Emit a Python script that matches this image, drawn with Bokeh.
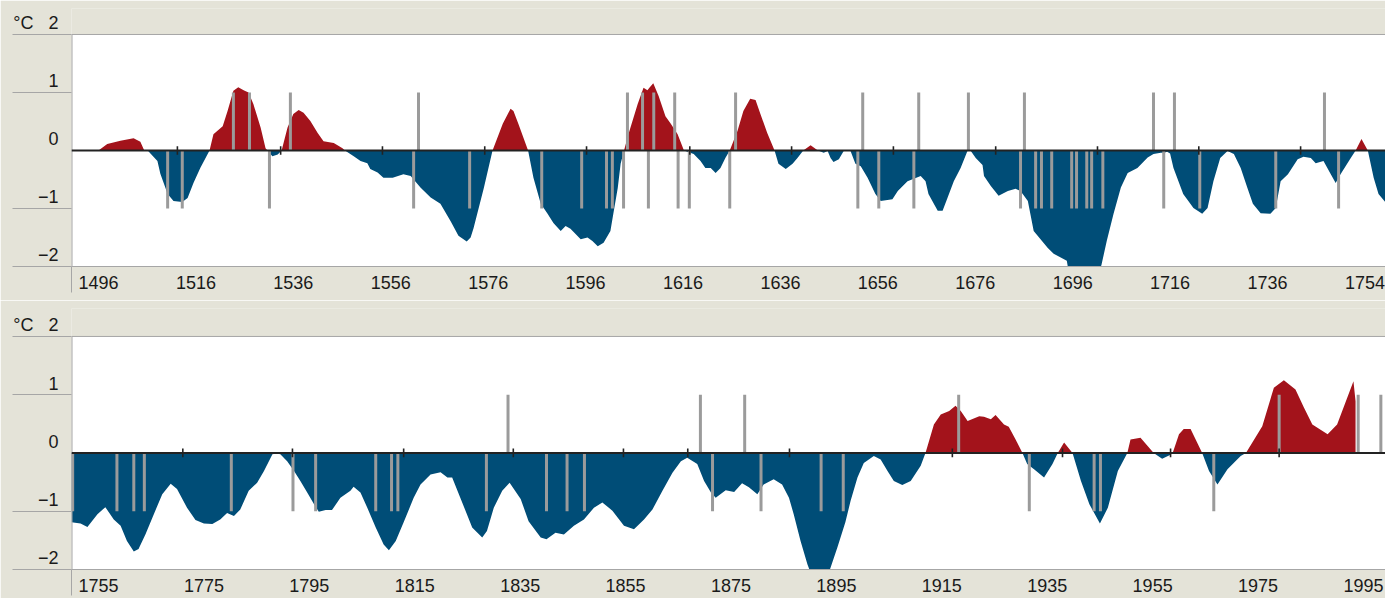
from bokeh.plotting import figure
from bokeh.layouts import column
from bokeh.models import FixedTicker, Range1d, Span, BoxAnnotation
from bokeh.embed import file_html
from bokeh.resources import INLINE

# ---------------- data: top panel (1496-1754) ----------------
top_years = [1496.0, 1497.8, 1500.5, 1503.2, 1504.6, 1505.4, 1506.1, 1508.1, 1508.7, 1510.2,
             1511.4, 1513.2, 1514.3, 1515.5, 1516.9, 1518.8, 1519.6, 1521.5, 1522.5, 1523.7,
             1524.7, 1525.8, 1526.8, 1527.8, 1529.3, 1530.3, 1530.7, 1531.7, 1532.8, 1533.6,
             1534.8, 1536.0, 1537.1, 1538.1, 1539.5, 1541.0, 1542.2, 1544.3, 1546.1, 1546.6,
             1548.4, 1549.8, 1551.2, 1551.8, 1553.3, 1554.5, 1556.4, 1558.6, 1560.1, 1562.1,
             1564.2, 1566.2, 1568.3, 1569.9, 1571.6, 1572.4, 1573.0, 1575.1, 1576.9, 1579.0,
             1580.6, 1581.2, 1582.2, 1584.2, 1585.3, 1586.8, 1588.2, 1589.4, 1590.9, 1591.9,
             1592.9, 1595.0, 1596.4, 1597.4, 1598.5, 1599.7, 1601.1, 1601.7, 1602.6, 1603.2,
             1603.9, 1604.8, 1606.7, 1607.9, 1608.7, 1609.1, 1609.9, 1611.0, 1612.4, 1613.5,
             1614.9, 1616.2, 1618.2, 1619.6, 1620.6, 1621.7, 1622.7, 1623.7, 1624.7, 1625.6,
             1627.2, 1628.4, 1629.8, 1630.9, 1631.9, 1633.3, 1634.8, 1635.6, 1637.1, 1638.5,
             1639.5, 1640.7, 1642.2, 1643.7, 1644.9, 1645.7, 1646.3, 1646.9, 1648.0, 1649.0,
             1650.4, 1651.4, 1652.5, 1653.9, 1655.5, 1656.6, 1659.0, 1660.1, 1662.1, 1664.8,
             1665.8, 1666.4, 1667.5, 1668.3, 1669.3, 1670.3, 1671.6, 1673.0, 1674.4, 1675.1,
             1676.1, 1677.5, 1677.8, 1679.2, 1680.8, 1682.7, 1684.3, 1685.3, 1686.8, 1688.0,
             1690.9, 1692.1, 1694.8, 1695.2, 1698.5, 1701.5, 1701.9, 1703.0, 1704.4, 1705.9,
             1707.3, 1709.3, 1711.4, 1712.6, 1714.1, 1714.8, 1715.4, 1716.0, 1716.7, 1718.7,
             1720.8, 1722.6, 1723.7, 1724.9, 1726.3, 1727.8, 1729.1, 1730.5, 1731.9, 1733.0,
             1734.6, 1736.6, 1737.7, 1738.7, 1740.2, 1742.2, 1743.4, 1744.9, 1745.9, 1747.5,
             1749.0, 1750.0, 1751.0, 1753.1, 1754.1, 1755.3, 1756.6, 1757.8, 1758.8, 1760.3]
top_temps = [0.0, 0.11, 0.17, 0.21, 0.15, 0.0, 0.0, -0.18, -0.40, -0.75,
             -0.87, -0.89, -0.82, -0.56, -0.30, 0.0, 0.28, 0.42, 0.68, 1.03,
             1.09, 1.04, 1.00, 0.80, 0.39, 0.04, 0.0, -0.10, -0.07, 0.0,
             0.39, 0.63, 0.70, 0.65, 0.51, 0.30, 0.16, 0.13, 0.04, 0.0,
             -0.10, -0.18, -0.22, -0.32, -0.38, -0.47, -0.47, -0.41, -0.44, -0.64,
             -0.81, -0.92, -1.22, -1.47, -1.57, -1.50, -1.34, -0.65, 0.0, 0.46,
             0.72, 0.68, 0.46, 0.0, -0.47, -0.92, -1.09, -1.25, -1.39, -1.30,
             -1.35, -1.53, -1.50, -1.56, -1.65, -1.59, -1.39, -1.09, -0.65, -0.23,
             0.0, 0.28, 0.80, 1.08, 1.04, 1.08, 1.16, 0.94, 0.59, 0.46,
             0.28, 0.0, -0.06, -0.18, -0.30, -0.30, -0.39, -0.30, -0.13, 0.0,
             0.34, 0.68, 0.89, 0.87, 0.63, 0.30, 0.0, -0.23, -0.32, -0.23,
             -0.13, 0.0, 0.09, 0.0, -0.04, -0.01, -0.13, -0.20, -0.15, -0.01,
             -0.01, -0.23, -0.27, -0.47, -0.75, -0.87, -0.84, -0.70, -0.53, -0.44,
             -0.53, -0.75, -0.92, -1.04, -1.04, -0.82, -0.53, -0.30, -0.01, -0.01,
             -0.13, -0.25, -0.44, -0.61, -0.78, -0.70, -0.66, -0.70, -0.87, -1.39,
             -1.68, -1.78, -1.90, -2.10, -2.30, -2.05, -1.98, -1.56, -1.09, -0.64,
             -0.39, -0.30, -0.12, -0.06, -0.04, -0.04, -0.02, -0.05, -0.30, -0.75,
             -0.99, -1.09, -0.99, -0.53, -0.13, -0.01, -0.06, -0.30, -0.65, -0.92,
             -1.08, -1.09, -0.99, -0.53, -0.41, -0.15, -0.11, -0.13, -0.22, -0.18,
             -0.41, -0.56, -0.41, -0.13, 0.0, 0.20, 0.0, -0.47, -0.75, -0.90]
top_warm_events = [1523.7, 1527.0, 1535.4, 1561.7, 1604.6, 1607.7, 1610.0, 1614.3, 1626.8,
                   1652.9, 1664.4, 1674.6, 1686.1, 1712.6, 1716.9, 1747.7]
top_cold_events = [1510.2, 1513.2, 1531.1, 1560.7, 1572.2, 1587.0, 1595.2, 1600.3, 1601.5,
                   1603.8, 1608.9, 1615.0, 1617.3, 1625.6, 1651.9, 1656.2, 1663.4, 1685.3,
                   1688.4, 1689.6, 1691.7, 1695.8, 1696.8, 1698.9, 1699.9, 1702.2, 1714.7,
                   1722.1, 1737.7, 1750.6]
top_zero_ticks = [1512.2, 1533.4, 1554.3, 1575.3, 1596.2, 1617.4, 1638.3, 1659.2, 1680.2,
                  1701.1, 1721.9, 1742.8]
top_tick_years = [1496, 1516, 1536, 1556, 1576, 1596, 1616, 1636, 1656, 1676, 1696, 1716, 1736, 1756]
top_tick_labels = ["1496", "1516", "1536", "1556", "1576", "1596", "1616", "1636", "1656",
                   "1676", "1696", "1716", "1736", "1754"]

# ---------------- data: bottom panel (1755-1995) ----------------
bot_years = [1749.9, 1751.6, 1752.9, 1754.8, 1756.3, 1757.9, 1759.2, 1760.4, 1761.7, 1762.6,
             1763.9, 1765.5, 1767.1, 1768.7, 1769.9, 1771.8, 1773.4, 1775.0, 1776.6, 1778.1,
             1779.4, 1780.7, 1781.9, 1783.5, 1785.1, 1786.4, 1788.0, 1788.8, 1789.5, 1790.8,
             1792.1, 1793.3, 1794.6, 1795.9, 1796.8, 1798.1, 1799.3, 1800.9, 1802.8, 1803.4,
             1804.7, 1806.0, 1807.6, 1809.1, 1810.1, 1811.4, 1812.9, 1814.8, 1816.1, 1818.0,
             1819.9, 1821.2, 1822.1, 1823.7, 1825.9, 1827.8, 1828.7, 1830.0, 1831.6, 1833.0,
             1835.1, 1836.6, 1838.9, 1840.0, 1841.7, 1843.3, 1845.2, 1847.1, 1849.0, 1850.6,
             1852.5, 1854.7, 1856.6, 1858.5, 1860.1, 1862.0, 1863.9, 1865.5, 1866.7, 1868.6,
             1869.9, 1871.2, 1872.1, 1874.0, 1875.6, 1877.1, 1878.4, 1880.0, 1881.2, 1883.1,
             1884.7, 1886.0, 1886.9, 1888.2, 1889.5, 1890.5, 1892.5, 1893.7, 1895.2, 1896.7,
             1897.7, 1899.0, 1900.2, 1902.1, 1903.4, 1904.7, 1905.9, 1907.5, 1909.1, 1911.0,
             1911.9, 1912.2, 1913.5, 1914.8, 1916.4, 1917.6, 1918.6, 1919.9, 1922.1, 1923.0,
             1924.3, 1925.2, 1926.8, 1927.7, 1929.0, 1930.3, 1931.2, 1932.5, 1934.4, 1936.0,
             1937.0, 1938.2, 1939.8, 1941.4, 1943.0, 1945.0, 1946.5, 1948.4, 1950.2, 1950.8,
             1952.7, 1955.2, 1956.8, 1958.4, 1958.8, 1960.0, 1960.9, 1962.2, 1964.4, 1965.7,
             1967.3, 1969.2, 1971.7, 1972.7, 1975.8, 1978.0, 1979.9, 1982.1, 1983.7, 1985.3,
             1988.2, 1990.0, 1993.1, 1993.5]
bot_temps = [-1.19, -1.21, -1.27, -1.05, -0.93, -1.14, -1.25, -1.51, -1.69, -1.65,
             -1.40, -1.05, -0.71, -0.53, -0.62, -0.94, -1.15, -1.21, -1.22, -1.14,
             -1.03, -1.08, -0.97, -0.65, -0.51, -0.31, -0.02, -0.01, -0.02, -0.14,
             -0.31, -0.48, -0.68, -0.88, -1.01, -0.98, -0.98, -0.77, -0.65, -0.58,
             -0.68, -0.94, -1.28, -1.57, -1.67, -1.51, -1.19, -0.77, -0.54, -0.37,
             -0.33, -0.42, -0.42, -0.78, -1.28, -1.45, -1.34, -0.94, -0.65, -0.51,
             -0.79, -1.17, -1.45, -1.48, -1.37, -1.40, -1.25, -1.14, -0.94, -0.85,
             -0.99, -1.25, -1.31, -1.14, -0.97, -0.65, -0.34, -0.14, -0.08, -0.19,
             -0.48, -0.68, -0.77, -0.64, -0.67, -0.52, -0.59, -0.71, -0.54, -0.45,
             -0.54, -0.77, -1.05, -1.51, -1.91, -2.15, -2.20, -2.02, -1.62, -1.19,
             -0.82, -0.42, -0.17, -0.05, -0.11, -0.31, -0.48, -0.55, -0.48, -0.22,
             0.0, 0.09, 0.49, 0.66, 0.72, 0.81, 0.72, 0.55, 0.63, 0.62,
             0.58, 0.65, 0.49, 0.45, 0.23, 0.0, -0.19, -0.28, -0.42, -0.19,
             0.0, 0.18, 0.0, -0.48, -0.88, -1.21, -0.94, -0.31, 0.0, 0.23,
             0.26, 0.0, -0.10, -0.03, 0.0, 0.32, 0.41, 0.41, 0.0, -0.31,
             -0.54, -0.28, -0.05, 0.0, 0.46, 1.12, 1.25, 1.09, 0.78, 0.49,
             0.32, 0.49, 1.23, 0.89]
bot_warm_events = [1832.7, 1869.2, 1877.6, 1918.2, 1979.0, 1994.0, 1998.3]
bot_cold_events = [1750.1, 1758.5, 1761.7, 1763.7, 1780.2, 1791.9, 1796.2, 1807.6, 1810.6,
                   1811.8, 1828.6, 1840.0, 1843.9, 1847.2, 1871.5, 1880.7, 1892.1, 1896.3,
                   1931.6, 1943.9, 1945.1, 1966.6]
bot_zero_ticks = [1771.0, 1791.8, 1812.9, 1833.7, 1854.6, 1866.8, 1886.1, 1917.0, 1937.9,
                  1958.4, 1979.0]
bot_tick_years = [1755, 1775, 1795, 1815, 1835, 1855, 1875, 1895, 1915, 1935, 1955, 1975, 1995]
bot_tick_labels = ["1755", "1775", "1795", "1815", "1835", "1855", "1875", "1895", "1915",
                   "1935", "1955", "1975", "1995"]

y_tick_values = [2, 1, 0, -1, -2]
y_tick_labels = ["°C\u00a0\u00a0\u00a02", "1", "0", "\u22121", "\u22122"]
y_line_values = [2, 1, -1, -2]

# ---------------- style ----------------
BEIGE = "#e4e3d8"
RED = "#a3131b"
BLUE = "#004d77"
BAR = "#9b9b9b"
GRID = "#a6a6a6"
INK = "#1a1a1a"
FONT = "Liberation Sans"
LABEL_RAISE = 0.19
Y_LINE_OUT = 59
X_SEP_OUT = 26


def split_sign(xs, vs):
    X, V = [], []
    for i in range(len(xs)):
        if i > 0 and vs[i - 1] * vs[i] < 0:
            t = vs[i - 1] / (vs[i - 1] - vs[i])
            X.append(xs[i - 1] + t * (xs[i] - xs[i - 1]))
            V.append(0.0)
        X.append(xs[i])
        V.append(vs[i])
    return X, [max(v, 0.0) for v in V], [min(v, 0.0) for v in V]


def panel(years, temps, warm, cold, zticks, tyears, tlabels, x0, x1, height,
          y_top, border_bottom):
    p = figure(width=1385, height=height, output_backend="svg", toolbar_location=None,
               x_range=Range1d(x0, x1), y_range=Range1d(-2, y_top),
               min_border_left=71, min_border_right=0, min_border_top=8,
               min_border_bottom=border_bottom)
    p.background_fill_color = BEIGE
    p.border_fill_color = BEIGE
    p.outline_line_color = None
    p.xgrid.visible = False
    p.ygrid.visible = False

    # white plotting area
    p.add_layout(BoxAnnotation(bottom=-2, top=2, fill_color="white", fill_alpha=1.0,
                               line_color=None, level="underlay"))

    X, pos, neg = split_sign(years, temps)
    p.varea(x=X, y1=0, y2=pos, fill_color=RED)
    p.varea(x=X, y1=0, y2=neg, fill_color=BLUE)

    p.segment(x0=warm, y0=0, x1=warm, y1=1, line_color=BAR, line_width=3)
    p.segment(x0=cold, y0=0, x1=cold, y1=-1, line_color=BAR, line_width=3)

    # left border of white area
    p.segment(x0=[x0], y0=[-2], x1=[x0], y1=[2], line_color=GRID, line_width=2)

    p.add_layout(Span(location=2, dimension="width", line_color=GRID, line_width=1))
    p.add_layout(Span(location=0, dimension="width", line_color="#222222", line_width=2))
    p.segment(x0=zticks, y0=-0.075, x1=zticks, y1=0.075, line_color="#222222", line_width=1.6)

    # x axis
    xa = p.xaxis[0]
    xa.ticker = FixedTicker(ticks=tyears, minor_ticks=[x0 + 0.05])
    xa.major_label_overrides = {y: lab for y, lab in zip(tyears, tlabels)}
    xa.major_tick_line_color = None
    xa.major_tick_out = 0
    xa.major_tick_in = 0
    xa.minor_tick_line_color = GRID
    xa.minor_tick_out = X_SEP_OUT
    xa.minor_tick_in = 0
    xa.axis_line_color = GRID
    xa.major_label_standoff = 9 - X_SEP_OUT
    xa.major_label_text_font = FONT
    xa.major_label_text_font_size = "18px"
    xa.major_label_text_color = INK

    # y axis: labels sit just above their reference lines
    ya = p.yaxis[0]
    label_pos = [v + LABEL_RAISE for v in y_tick_values]
    ya.ticker = FixedTicker(ticks=label_pos, minor_ticks=y_line_values)
    ya.major_label_overrides = {pv: lab for pv, lab in zip(label_pos, y_tick_labels)}
    ya.major_tick_line_color = None
    ya.major_tick_out = 0
    ya.major_tick_in = 0
    ya.minor_tick_line_color = GRID
    ya.minor_tick_out = Y_LINE_OUT
    ya.minor_tick_in = 0
    ya.axis_line_color = None
    ya.major_label_standoff = 13 - Y_LINE_OUT
    ya.major_label_text_font = FONT
    ya.major_label_text_font_size = "18px"
    ya.major_label_text_color = INK
    return p


top = panel(top_years, top_temps, top_warm_events, top_cold_events, top_zero_ticks,
            top_tick_years, top_tick_labels, 1490.46, 1760.23, 300, 2.448, 34)
bottom = panel(bot_years, bot_temps, bot_warm_events, bot_cold_events, bot_zero_ticks,
               bot_tick_years, bot_tick_labels, 1749.88, 1999.18, 298, 2.48, 29)

layout = column(top, bottom, spacing=0)
html = file_html(layout, INLINE)
html = html.replace("<body>", '<body style="margin:0;background:%s;">' % BEIGE, 1)
open("out.html", "w").write(html)
